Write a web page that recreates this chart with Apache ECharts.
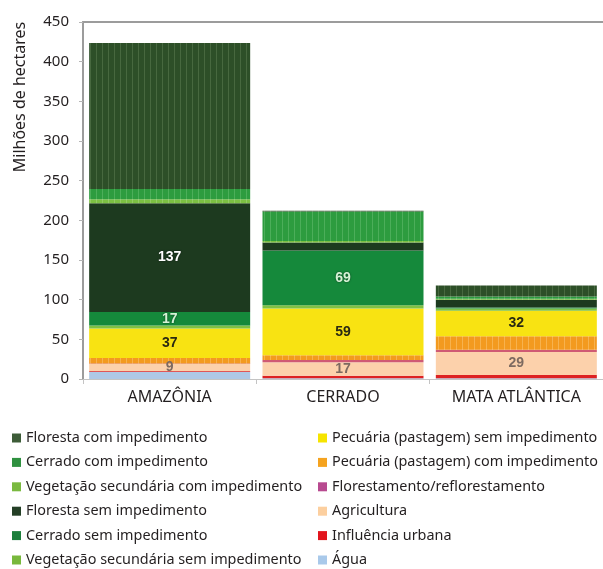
<!DOCTYPE html>
<html>
<head>
<meta charset="utf-8">
<script src="https://cdn.jsdelivr.net/npm/echarts@6/dist/echarts.min.js"></script>
<style>
  html, body { margin: 0; padding: 0; background: #fff; }
  #chart { width: 603px; height: 569px; }
</style>
</head>
<body>
<div id="chart"></div>
<script>
// Biomes on the x axis
const categories = ['AMAZÔNIA', 'CERRADO', 'MATA ATLÂNTICA'];

// Land use per biome, millions of hectares (Amazônia, Cerrado, Mata Atlântica)
const florestaCom    = [184, 1, 14];
const cerradoCom     = [13, 37, 3];
const vegSecCom      = [5, 2, 1];
const florestaSem    = [137, 10, 10];
const cerradoSem     = [17, 69, 1];
const vegSecSem      = [4, 4, 3];
const pecuariaSem    = [37, 59, 32];
const pecuariaCom    = [7, 6, 17];
const florestamento  = [0.5, 3, 3];
const agricultura    = [9, 17, 29];
const urbana         = [1, 3, 4];
const agua           = [9, 1, 1];

// Value ticks
const yTicks = [0, 50, 100, 150, 200, 250, 300, 350, 400, 450];

// Which segments carry a printed value
const labelled = {
  florestaSem: [true, false, false],
  cerradoSem:  [true, true, false],
  pecuariaSem: [true, true, true],
  agricultura: [true, true, true]
};

const FONT = "'Noto Sans', 'Open Sans', sans-serif";

// Vertical hatch fill used for the "com impedimento" classes
function stripes(base, line) {
  const c = document.createElement('canvas');
  c.width = 6; c.height = 6;
  const g = c.getContext('2d');
  g.fillStyle = base; g.fillRect(0, 0, 6, 6);
  g.fillStyle = line; g.fillRect(0, 0, 1, 6);
  return { image: c, repeat: 'repeat' };
}

// Stack order is bottom → top
const layers = [
  { key: 'agua',          name: 'Água',                                  data: agua,          color: '#aec8e6', legend: '#a9c9ea' },
  { key: 'urbana',        name: 'Influência urbana',                     data: urbana,        color: '#dd2222', legend: '#e2151d' },
  { key: 'agricultura',   name: 'Agricultura',                           data: agricultura,   color: '#fcd1ab', legend: '#fccf9f', label: '#7d6a60' },
  { key: 'florestamento', name: 'Florestamento/reflorestamento',         data: florestamento, color: '#cf5a74', legend: '#b84a90' },
  { key: 'pecuariaCom',   name: 'Pecuária (pastagem) com impedimento',   data: pecuariaCom,   color: stripes('#f39a1f', '#f7b24e'), legend: '#f5a31f' },
  { key: 'pecuariaSem',   name: 'Pecuária (pastagem) sem impedimento',   data: pecuariaSem,   color: '#f8e312', legend: '#f6e400', label: '#2a2a12' },
  { key: 'vegSecSem',     name: 'Vegetação secundária sem impedimento',  data: vegSecSem,     color: '#7fc143', legend: '#78b83c' },
  { key: 'cerradoSem',    name: 'Cerrado sem impedimento',               data: cerradoSem,    color: '#15893b', legend: '#1c7f3c', label: '#d6f2d6' },
  { key: 'florestaSem',   name: 'Floresta sem impedimento',              data: florestaSem,   color: '#1d3a1f', legend: '#243f26', label: '#ffffff' },
  { key: 'vegSecCom',     name: 'Vegetação secundária com impedimento',  data: vegSecCom,     color: stripes('#7cc043', '#93cc64'), legend: '#7ab940' },
  { key: 'cerradoCom',    name: 'Cerrado com impedimento',               data: cerradoCom,    color: stripes('#2d9c3f', '#4cae5a'), legend: '#2f9140' },
  { key: 'florestaCom',   name: 'Floresta com impedimento',              data: florestaCom,   color: stripes('#2d4f28', '#47683f'), legend: '#3d5c38' }
];

const series = layers.map(l => ({
  name: l.name,
  type: 'bar',
  stack: 'uso',
  barWidth: 161,
  data: l.data,
  itemStyle: { color: l.color },
  emphasis: { disabled: true },
  label: {
    show: !!labelled[l.key],
    position: 'inside',
    color: l.label || '#000',
    fontFamily: "'Liberation Sans', Arial, sans-serif",
    fontWeight: 'bold',
    fontSize: 14,
    textShadowColor: (l.key === 'florestaSem' || l.key === 'cerradoSem') ? 'rgba(0,0,0,0.6)' : 'transparent',
    textShadowBlur: 2,
    formatter: p => (labelled[l.key] && labelled[l.key][p.dataIndex]) ? String(p.value) : ''
  }
}));

const legendOf = names => names.map(n => {
  const l = layers.find(x => x.name === n);
  return { name: n, itemStyle: { color: l.legend } };
});

const legendText = { fontFamily: FONT, fontSize: 14.4, color: '#231f20', lineHeight: 16 };

const option = {
  animation: false,
  backgroundColor: '#ffffff',
  grid: { left: 83, top: 22, width: 528, height: 357 },
  xAxis: [
    {
      type: 'category',
      data: categories,
      axisLine: { lineStyle: { color: '#c4c4c4', width: 1 } },
      axisTick: { show: true, length: 5, lineStyle: { color: '#c4c4c4' } },
      axisLabel: { color: '#231f20', fontFamily: FONT, fontSize: 16, margin: 10 }
    },
    {
      type: 'category',
      position: 'top',
      data: categories,
      axisLine: { lineStyle: { color: '#9c9c9c', width: 2 } },
      axisTick: { show: false },
      axisLabel: { show: false }
    }
  ],
  yAxis: {
    type: 'value',
    min: yTicks[0],
    max: yTicks[yTicks.length - 1],
    interval: 50,
    axisLine: { show: true, lineStyle: { color: '#9c9c9c', width: 2 } },
    axisTick: { show: true, length: 4, lineStyle: { color: '#b5b5b5' } },
    splitLine: { show: false },
    axisLabel: { color: '#231f20', fontFamily: FONT, fontSize: 15, margin: 14 }
  },
  legend: [
    {
      orient: 'vertical', left: 12, top: 430, padding: 0, height: 139,
      itemWidth: 9, itemHeight: 9, itemGap: 8.4, icon: 'rect',
      textStyle: legendText,
      data: legendOf(['Floresta com impedimento', 'Cerrado com impedimento', 'Vegetação secundária com impedimento',
                      'Floresta sem impedimento', 'Cerrado sem impedimento', 'Vegetação secundária sem impedimento'])
    },
    {
      orient: 'vertical', left: 318, top: 430, padding: 0, height: 139,
      itemWidth: 9, itemHeight: 9, itemGap: 8.4, icon: 'rect',
      textStyle: legendText,
      data: legendOf(['Pecuária (pastagem) sem impedimento', 'Pecuária (pastagem) com impedimento', 'Florestamento/reflorestamento',
                      'Agricultura', 'Influência urbana', 'Água'])
    }
  ],
  graphic: [
    {
      type: 'text',
      x: 20, y: 97,
      rotation: Math.PI / 2,
      style: {
        text: 'Milhões de hectares',
        fill: '#231f20',
        font: "16px 'Noto Sans', 'Open Sans', sans-serif",
        textAlign: 'center',
        textVerticalAlign: 'middle'
      }
    }
  ],
  series: series
};

const chart = echarts.init(document.getElementById('chart'), null, { renderer: 'canvas' });
chart.setOption(option);
</script>
</body>
</html>
